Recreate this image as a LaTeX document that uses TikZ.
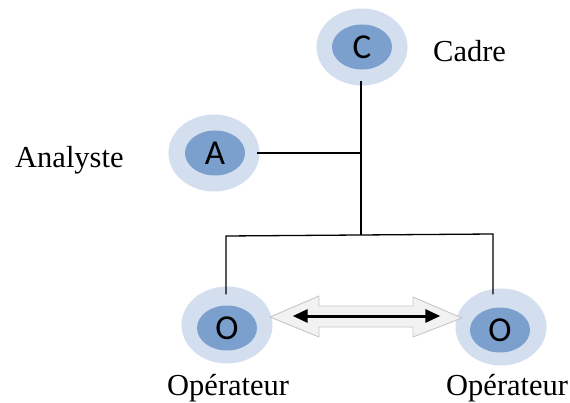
\documentclass[tikz,border=0pt]{standalone}
\usepackage{fontspec}
\setmainfont{Liberation Serif}
\newfontfamily\lettfont{Carlito}
\usetikzlibrary{shapes.geometric,arrows.meta}
\definecolor{outerblue}{HTML}{D3DEEF}
\definecolor{innerblue}{HTML}{7BA0CD}
\definecolor{arrowfill}{HTML}{F2F2F2}
\tikzset{
  outerell/.style={ellipse,fill=outerblue,minimum width=91pt,minimum height=77pt,inner sep=0pt},
  innerell/.style={ellipse,fill=innerblue,minimum width=60pt,minimum height=45pt,inner sep=0pt,font=\lettfont\fontsize{35}{35}\selectfont},
  lbl/.style={anchor=base west,inner sep=0pt,font=\fontsize{30.5}{30.5}\selectfont},
  conn/.style={line width=1.3pt,black},
}
\begin{document}
\begin{tikzpicture}[x=1pt,y=-1pt]
\useasboundingbox (0,0) rectangle (570,403);
% nodes
\node[outerell] (Co) at (362,47) {};
\node[innerell] (C) at (362,47) {C};
\node[outerell] (Ao) at (214,153) {};
\node[innerell] (A) at (215,153) {A};
\node[outerell] (Lo) at (227,325) {};
\node[innerell] (L) at (227,328) {O};
\node[outerell] (Ro) at (501,327) {};
\node[innerell] (R) at (500,330) {O};
% labels
\node[lbl] (tC) at (433,62) {Cadre};
\node[lbl] (tA) at (15,168) {Analyste};
\node[lbl] (tL) at (167,395) {Opérateur};
\node[lbl] (tR) at (446,395) {Opérateur};
% junctions
\coordinate (j1) at (361,153);
\coordinate (j2) at (361,235);
\coordinate (jl) at (226,236);
\coordinate (jr) at (493,234);
\draw[conn] ([yshift=5pt]Co.south -| j1) -- (j2);
\draw[conn] ([xshift=-3pt]Ao.east) -- (j1);
\draw[conn] ([yshift=-8pt]Lo.north -| jl) -- (jl) -- (jr) -- ([yshift=-6pt]Ro.north -| jr);
% hollow double arrow
\draw[fill=arrowfill,draw=gray!45,line width=0.9pt,line join=miter]
  (270,317) -- (319,296) -- (319,306) -- (413,306) -- (413,297) -- (462,318)
  -- (413,337) -- (413,327) -- (319,327) -- (319,337) -- cycle;
% black double arrow
\draw[line width=3pt,{Triangle[length=15pt,width=13pt]}-{Triangle[length=15pt,width=13pt]}]
  ([xshift=20pt,yshift=9pt]Lo.east) -- ([xshift=-15pt,yshift=11pt]Ro.west);
\end{tikzpicture}
\end{document}
